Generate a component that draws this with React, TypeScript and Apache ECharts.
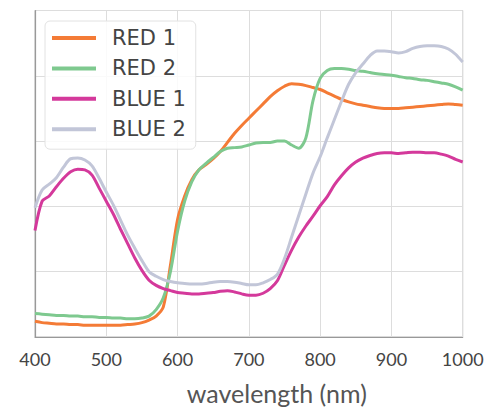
import React, { useEffect, useRef } from "react";
import * as echarts from "echarts";

const wavelengths = [
  400, 410, 420, 430, 440, 450, 460, 470, 480, 490, 500, 510, 520, 530, 540, 550, 560, 570, 580, 590,
  600, 610, 620, 630, 640, 650, 660, 670, 680, 690, 700, 710, 720, 730, 740, 750, 760, 770, 780, 790,
  800, 810, 820, 830, 840, 850, 860, 870, 880, 890, 900, 910, 920, 930, 940, 950, 960, 970, 980, 990, 1000,
];

const red1 = [
  0.24, 0.22, 0.21, 0.2, 0.2, 0.19, 0.19, 0.18, 0.18, 0.18, 0.18, 0.18, 0.18, 0.19, 0.2, 0.22, 0.26, 0.32, 0.46, 1.1,
  1.8, 2.16, 2.41, 2.56, 2.64, 2.73, 2.84, 2.98, 3.12, 3.24, 3.35, 3.46, 3.57, 3.68, 3.77, 3.84, 3.88, 3.87, 3.85, 3.82,
  3.79, 3.74, 3.69, 3.64, 3.6, 3.57, 3.55, 3.53, 3.51, 3.5, 3.5, 3.5, 3.51, 3.52, 3.53, 3.54, 3.55, 3.56, 3.57, 3.56, 3.55,
];

const red2 = [
  0.36, 0.35, 0.34, 0.33, 0.33, 0.32, 0.32, 0.31, 0.31, 0.3, 0.3, 0.29, 0.29, 0.28, 0.28, 0.29, 0.32, 0.42, 0.6, 1.0,
  1.62, 2.08, 2.38, 2.56, 2.66, 2.75, 2.84, 2.89, 2.9, 2.91, 2.94, 2.97, 2.98, 2.98, 3.0, 3.0, 2.94, 2.89, 3.05, 3.62,
  3.96, 4.08, 4.11, 4.11, 4.1, 4.08, 4.07, 4.05, 4.03, 4.02, 4.01, 3.99, 3.97, 3.96, 3.94, 3.93, 3.91, 3.89, 3.87, 3.83, 3.78,
];

const blue1 = [
  1.63, 2.08, 2.16, 2.3, 2.43, 2.53, 2.57, 2.56, 2.48, 2.28, 2.08, 1.88, 1.65, 1.43, 1.21, 1.02, 0.87, 0.79, 0.74, 0.71,
  0.68, 0.67, 0.66, 0.66, 0.67, 0.68, 0.7, 0.71, 0.69, 0.66, 0.64, 0.64, 0.67, 0.74, 0.86, 1.1, 1.33, 1.53, 1.7, 1.85,
  2.01, 2.15, 2.33, 2.47, 2.59, 2.68, 2.74, 2.78, 2.81, 2.82, 2.82, 2.81, 2.82, 2.83, 2.83, 2.82, 2.82, 2.8, 2.77, 2.72, 2.68,
];

const blue2 = [
  1.98, 2.25, 2.34, 2.44, 2.6, 2.73, 2.74, 2.71, 2.62, 2.43, 2.22, 2.02, 1.79, 1.56, 1.36, 1.17, 1.0, 0.93, 0.88, 0.85,
  0.83, 0.82, 0.81, 0.81, 0.82, 0.84, 0.85, 0.85, 0.84, 0.82, 0.8, 0.8, 0.83, 0.88, 0.96, 1.2, 1.53, 1.86, 2.19, 2.51,
  2.76, 3.05, 3.33, 3.61, 3.87, 4.05, 4.18, 4.31, 4.38, 4.38, 4.37, 4.35, 4.37, 4.42, 4.45, 4.46, 4.46, 4.45, 4.41, 4.33, 4.21,
];

const seriesNames = ["RED 1", "RED 2", "BLUE 1", "BLUE 2"];
const seriesColors = ["#f47b36", "#7ec98f", "#d4399b", "#c2c6d8"];
const xTicks = [400, 500, 600, 700, 800, 900, 1000];
const xTitle = "wavelength (nm)";

export default function App() {
  const ref = useRef<HTMLDivElement>(null);
  useEffect(() => {
    if (!ref.current) return;
    const chart = echarts.init(ref.current, null, { renderer: "svg" });
    const values = [red1, red2, blue1, blue2];
    chart.setOption({
      animation: false,
      grid: {
        left: 35,
        right: 24.3,
        top: 10.5,
        bottom: 66,
        show: true,
        borderColor: "#b5b5b5",
        borderWidth: 1,
      },
      legend: {
        orient: "vertical",
        left: 45,
        top: 21,
        data: seriesNames,
        icon: "rect",
        itemWidth: 44,
        itemHeight: 4,
        itemGap: 8.4,
        padding: [6, 10, 9, 7],
        backgroundColor: "rgba(255,255,255,0.85)",
        borderColor: "#e2e2e2",
        borderWidth: 1,
        borderRadius: 5,
        textStyle: {
          fontFamily: "DejaVu Sans",
          fontSize: 21,
          color: "#444444",
          lineHeight: 22,
          padding: [0, 0, 0, 11],
        },
      },
      xAxis: {
        type: "value",
        min: 400,
        max: 1000,
        interval: 100,
        name: xTitle,
        nameLocation: "middle",
        nameGap: 43,
        nameTextStyle: {
          fontFamily: "Lato",
          fontSize: 25,
          color: "#555555",
          padding: [0, 0, 0, 56],
        },
        axisLine: { show: true, lineStyle: { color: "#999999", width: 1.2 } },
        axisTick: { show: false },
        axisLabel: {
          fontFamily: "Lato",
          fontSize: 18,
          color: "#444444",
          margin: 13,
          formatter: (v: number) => (xTicks.includes(v) ? String(v) : ""),
        },
        splitLine: { show: true, lineStyle: { color: "#dddddd", width: 1 } },
      },
      yAxis: {
        type: "value",
        min: 0,
        max: 5,
        interval: 1,
        axisLine: { show: true, lineStyle: { color: "#999999", width: 1.2 } },
        axisTick: { show: false },
        axisLabel: { show: false },
        splitLine: { show: true, lineStyle: { color: "#dddddd", width: 1 } },
      },
      series: seriesNames.map((name, i) => ({
        name,
        type: "line",
        data: wavelengths.map((w, j) => [w, values[i][j]]),
        showSymbol: false,
        smooth: 0.3,
        color: seriesColors[i],
        lineStyle: { color: seriesColors[i], width: 3 },
        z: 2 + i,
      })),
    });
    return () => chart.dispose();
  }, []);
  return (
    <div
      ref={ref}
      style={{ position: "absolute", left: 0, top: 0, width: 487, height: 410, background: "#ffffff" }}
    />
  );
}
